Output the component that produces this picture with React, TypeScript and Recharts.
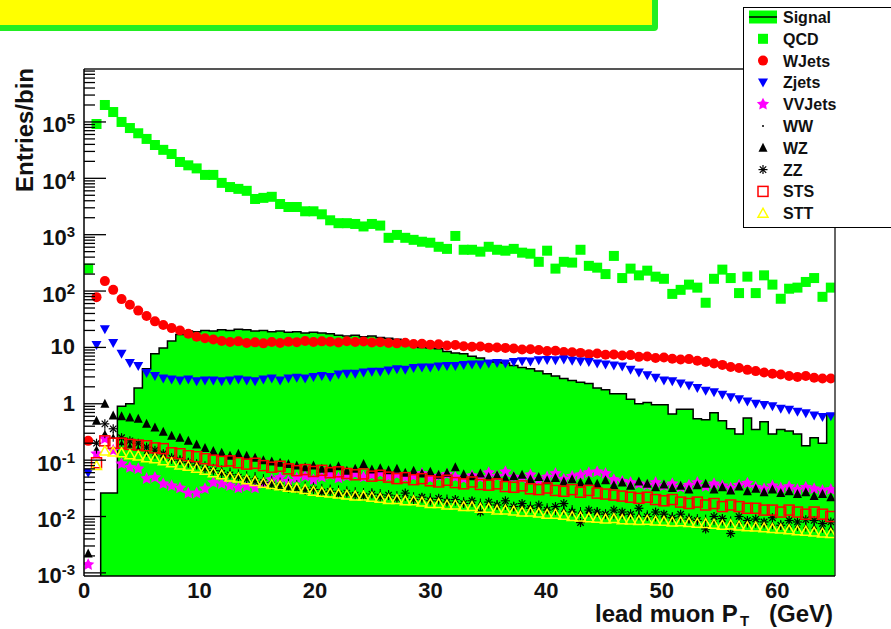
import React from 'react';
import { ComposedChart, Area, Scatter, XAxis, YAxis } from 'recharts';

const W = 891;
const H = 629;
const PLOT_L = 84;
const PLOT_R = 835;
const PLOT_T = 69;
const PLOT_B = 576;
const FONT = '"Liberation Sans", Arial, Helvetica, sans-serif';

// histogram binning: 90 bins over 0..65 GeV
const X_MAX = 65;
const N_BINS = 90;
const BIN_W = X_MAX / N_BINS;
const Y_MIN = 0.00088;
const Y_MAX = 870000;

const xTicks = [0, 10, 20, 30, 40, 50, 60];
const yDecades = [-3, -2, -1, 0, 1, 2, 3, 4, 5];

// bin contents, bin 0 .. 89
const signal = [0, 0, 0.026, 0.026, 0.9, 1.0, 1.9, 4.2, 7.7, 9.8,
  13, 17, 19.5, 19, 20, 19.5, 20.5, 20, 21, 20.5,
  19.5, 20, 19, 19.5, 18.5, 19, 18, 18.5, 18, 17.5,
  16.5, 16, 16.5, 15.5, 16, 15, 14.5, 14, 12.5, 11,
  10, 9.8, 9.5, 8.5, 8, 7.7, 7, 6.5, 5.8, 5.5,
  5.3, 4.8, 4.4, 4.2, 3.8, 3.4, 3.1, 2.8, 2.6, 2.4,
  2.3, 1.9, 1.77, 1.5, 1.5, 1.2, 1.0, 1.05, 0.96, 0.96,
  0.66, 0.8, 0.8, 0.54, 0.52, 0.69, 0.5, 0.36, 0.29, 0.56,
  0.35, 0.48, 0.29, 0.35, 0.33, 0.29, 0.18, 0.25, 0.2, 0.66];

const qcd = [250, 9.2e4, 2.0e5, 1.5e5, 1.0e5, 7.8e4, 6.3e4, 5.0e4, 3.9e4, 3.2e4,
  2.7e4, 1.95e4, 1.7e4, 1.5e4, 1.15e4, 1.15e4, 8300, 7000, 6500, 6000,
  4300, 4500, 4700, 3500, 3100, 3100, 2600, 2600, 2300, 1800,
  1600, 1600, 1550, 1400, 1550, 1450, 880, 990, 880, 810,
  750, 720, 610, 560, 950, 540, 540, 500, 610, 540,
  520, 560, 480, 460, 330, 520, 250, 330, 320, 540,
  280, 260, 200, 420, 170, 250, 190, 230, 180, 165,
  89, 105, 130, 115, 62, 165, 240, 170, 92, 180,
  92, 190, 130, 73, 110, 115, 145, 170, 79, 115];

const wjets = [0.22, 78, 150, 105, 72, 57, 45, 36, 29, 25,
  22, 20, 17.5, 15.5, 14.5, 13.8, 13, 12.5, 12.8, 12,
  12.3, 11.8, 12.5, 12, 12.6, 12.4, 13, 12.5, 12.8, 12.6,
  12.2, 12.9, 12.5, 12.7, 12.2, 12.4, 12, 11.8, 12.1, 11.5,
  11.6, 11.2, 11.4, 10.8, 11, 10.5, 10.3, 10.4, 9.9, 10,
  9.8, 9.6, 9.2, 9.3, 9, 8.6, 8.7, 8.3, 8.2, 8,
  7.6, 7.8, 7.4, 7.5, 7.2, 7.3, 6.8, 6.9, 6.5, 6.6,
  6.3, 6.1, 6.2, 5.8, 5.5, 5.2, 4.9, 4.5, 4.3, 4.0,
  3.8, 3.6, 3.4, 3.3, 3.1, 3.0, 3.1, 2.9, 2.8, 2.8];

const zjets = [0.06, 11, 21, 12, 7.7, 5.3, 4.7, 3.5, 3.1, 2.8,
  2.7, 2.6, 2.7, 2.5, 2.6, 2.6, 2.5, 2.6, 2.7, 2.6,
  2.5, 2.7, 2.8, 2.6, 2.8, 2.9, 2.8, 3.0, 3.1, 3.0,
  3.3, 3.4, 3.4, 3.6, 3.7, 3.7, 3.9, 4.1, 4.0, 4.3,
  4.4, 4.4, 4.6, 4.7, 4.7, 4.9, 5.0, 5.0, 5.2, 5.3,
  5.2, 5.5, 5.7, 5.6, 5.9, 6.0, 5.9, 6.1, 5.8, 5.6,
  5.5, 5.2, 5.0, 4.8, 4.6, 4.0, 3.6, 3.2, 2.9, 2.6,
  2.5, 2.3, 2.1, 1.9, 1.7, 1.6, 1.45, 1.3, 1.2, 1.1,
  1.0, 0.95, 0.9, 0.82, 0.78, 0.72, 0.68, 0.62, 0.58, 0.6];

const vvjets = [0.0014, 0.13, 0.24, 0.15, 0.086, 0.074, 0.07, 0.047, 0.049, 0.038,
  0.035, 0.032, 0.026, 0.026, 0.031, 0.04, 0.038, 0.035, 0.032, 0.034,
  0.032, 0.038, 0.045, 0.049, 0.042, 0.048, 0.052, 0.045, 0.05, 0.055,
  0.048, 0.052, 0.058, 0.05, 0.055, 0.06, 0.052, 0.056, 0.05, 0.053,
  0.058, 0.048, 0.052, 0.056, 0.05, 0.047, 0.053, 0.049, 0.06, 0.052,
  0.062, 0.05, 0.048, 0.055, 0.045, 0.05, 0.058, 0.046, 0.052, 0.055,
  0.06, 0.062, 0.058, 0.045, 0.042, 0.04, 0.038, 0.036, 0.04, 0.035,
  0.038, 0.033, 0.036, 0.04, 0.034, 0.038, 0.035, 0.032, 0.036, 0.039,
  0.033, 0.031, 0.035, 0.032, 0.034, 0.03, 0.033, 0.031, 0.029, 0.03];

const ww = [null, 0.16, 0.3, 0.26, 0.2, 0.18, 0.16, 0.14, 0.13, 0.12,
  0.105, 0.1, 0.09, 0.085, 0.078, 0.07, 0.066, 0.06, 0.056, 0.052,
  0.05, 0.046, 0.043, 0.04, 0.038, 0.036, 0.034, 0.033, 0.031, 0.03,
  0.029, 0.028, 0.027, 0.026, 0.026, 0.025, 0.024, 0.023, 0.023, 0.022,
  0.021, 0.021, 0.02, 0.02, 0.019, 0.018, 0.018, 0.017, 0.017, 0.016,
  0.016, 0.015, 0.015, 0.015, 0.014, 0.014, 0.013, 0.013, 0.013, 0.012,
  0.012, 0.012, 0.011, 0.011, 0.011, 0.011, 0.0105, 0.0105, 0.01, 0.01,
  0.0098, 0.0095, 0.0093, 0.009, 0.0088, 0.0086, 0.0085, 0.0082, 0.008, 0.0078,
  0.0077, 0.0075, 0.0073, 0.0071, 0.007, 0.0068, 0.0066, 0.0065, 0.0063, 0.0062];

const wz = [0.0022, 0.5, 1.0, 0.62, 0.6, 0.57, 0.54, 0.44, 0.38, 0.32,
  0.27, 0.25, 0.22, 0.19, 0.165, 0.146, 0.135, 0.12, 0.13, 0.12,
  0.11, 0.1, 0.095, 0.09, 0.085, 0.08, 0.075, 0.08, 0.07, 0.072,
  0.078, 0.065, 0.07, 0.085, 0.068, 0.072, 0.066, 0.07, 0.06, 0.065,
  0.058, 0.062, 0.055, 0.06, 0.075, 0.056, 0.052, 0.058, 0.05, 0.054,
  0.048, 0.052, 0.055, 0.046, 0.05, 0.044, 0.048, 0.042, 0.046, 0.04,
  0.043, 0.038, 0.044, 0.036, 0.04, 0.035, 0.042, 0.038, 0.033, 0.037,
  0.032, 0.035, 0.03, 0.036, 0.038, 0.03, 0.033, 0.029, 0.034, 0.028,
  0.031, 0.027, 0.03, 0.026, 0.028, 0.025, 0.027, 0.023, 0.025, 0.022];

const zz = [null, 0.2, 0.44, 0.36, 0.25, 0.22, 0.2, 0.17, 0.15, 0.13,
  0.11, 0.1, 0.09, 0.082, 0.07, 0.065, 0.058, 0.055, 0.05, 0.046,
  0.042, 0.04, 0.036, 0.034, 0.032, 0.031, 0.029, 0.03, 0.027, 0.028,
  0.025, 0.026, 0.024, 0.023, 0.025, 0.022, 0.024, 0.021, 0.026, 0.02,
  0.022, 0.019, 0.021, 0.018, 0.02, 0.017, 0.019, 0.012, 0.018, 0.016,
  0.019, 0.015, 0.017, 0.014, 0.016, 0.013, 0.015, 0.017, 0.012, 0.0078,
  0.013, 0.012, 0.011, 0.013, 0.012, 0.011, 0.014, 0.01, 0.012, 0.011,
  0.0095, 0.011, 0.009, 0.0085, 0.006, 0.01, 0.0092, 0.005, 0.01, 0.0085,
  0.009, 0.008, 0.0095, 0.007, 0.0085, 0.008, 0.0088, 0.0085, 0.0075, 0.008];

const sts = [null, 0.09, 0.22, 0.2, 0.2, 0.19, 0.185, 0.18, 0.165, 0.16,
  0.135, 0.13, 0.12, 0.115, 0.106, 0.1, 0.095, 0.097, 0.09, 0.085,
  0.088, 0.08, 0.075, 0.078, 0.07, 0.065, 0.068, 0.063, 0.066, 0.06,
  0.062, 0.058, 0.055, 0.057, 0.052, 0.054, 0.05, 0.047, 0.049, 0.045,
  0.047, 0.043, 0.041, 0.044, 0.04, 0.038, 0.041, 0.037, 0.036, 0.038,
  0.034, 0.033, 0.035, 0.031, 0.03, 0.032, 0.029, 0.028, 0.03, 0.027,
  0.029, 0.026, 0.025, 0.024, 0.023, 0.022, 0.021, 0.022, 0.02, 0.019,
  0.02, 0.018, 0.017, 0.018, 0.016, 0.017, 0.015, 0.016, 0.015, 0.014,
  0.014, 0.013, 0.013, 0.012, 0.013, 0.012, 0.011, 0.012, 0.011, 0.01];

const stt = [null, 0.08, 0.146, 0.14, 0.135, 0.125, 0.118, 0.11, 0.106, 0.098,
  0.09, 0.082, 0.078, 0.072, 0.066, 0.06, 0.055, 0.05, 0.048, 0.045,
  0.042, 0.039, 0.037, 0.035, 0.033, 0.032, 0.03, 0.028, 0.027, 0.026,
  0.025, 0.024, 0.023, 0.023, 0.022, 0.021, 0.02, 0.02, 0.019, 0.019,
  0.018, 0.017, 0.017, 0.016, 0.016, 0.015, 0.015, 0.014, 0.014, 0.013,
  0.013, 0.0125, 0.012, 0.012, 0.0115, 0.011, 0.011, 0.0105, 0.01, 0.0098,
  0.0095, 0.0093, 0.009, 0.0092, 0.0088, 0.0087, 0.0085, 0.0086, 0.0083, 0.0082,
  0.008, 0.0081, 0.0078, 0.0076, 0.0075, 0.0073, 0.007, 0.0071, 0.0068, 0.0066,
  0.0065, 0.0063, 0.0061, 0.006, 0.0058, 0.0056, 0.0055, 0.0053, 0.0051, 0.005];

const legendLabels = ['Signal', 'QCD', 'WJets', 'Zjets', 'VVJets', 'WW', 'WZ', 'ZZ', 'STS', 'STT'];
const legendKinds = ['signal', 'square', 'circle', 'tdown', 'star', 'dot', 'tup', 'aster', 'osquare', 'otri'];

// step histogram edges for the signal area
const signalEdges = [];
for (let i = 0; i <= N_BINS; i++) {
  const v = signal[Math.min(i, N_BINS - 1)];
  signalEdges.push({ x: i * BIN_W, s: v > 0 ? v : 1e-6 });
}

const toPoints = (vals) =>
  vals
    .map((v, i) => ({ x: (i + 0.5) * BIN_W, y: v }))
    .filter((p) => p.y != null && p.y > 0);

const yTicks = [];
yDecades.forEach((e) => {
  for (let m = 1; m <= 9; m++) {
    const v = m * Math.pow(10, e);
    if (v >= Y_MIN && v <= Y_MAX) yTicks.push(v);
  }
});

function starPoints(cx, cy, ro, ri) {
  const pts = [];
  for (let k = 0; k < 10; k++) {
    const r = k % 2 === 0 ? ro : ri;
    const a = -Math.PI / 2 + (k * Math.PI) / 5;
    pts.push(`${cx + r * Math.cos(a)},${cy + r * Math.sin(a)}`);
  }
  return pts.join(' ');
}

function drawMarker(kind, cx, cy, legend = false) {
  switch (kind) {
    case 'square':
      return <rect x={cx - 5} y={cy - 5} width={10} height={10} fill="#00ff00" />;
    case 'circle':
      return <circle cx={cx} cy={cy} r={5} fill="#ff0000" />;
    case 'tdown':
      return <polygon points={`${cx - 5},${cy - 4} ${cx + 5},${cy - 4} ${cx},${cy + 5}`} fill="#0000ff" />;
    case 'star':
      return <polygon points={starPoints(cx, cy, 6.5, 3.2)} fill="#ff00ff" />;
    case 'dot':
      if (legend) return <circle cx={cx} cy={cy} r={1} fill="#000" />;
      return (
        <g>
          <line x1={cx} y1={cy - 5} x2={cx} y2={cy + 5} stroke="#000" strokeWidth={1} />
          <polygon points={`${cx - 3},${cy + 2} ${cx + 3},${cy + 2} ${cx},${cy - 3}`} fill="#000" />
        </g>
      );
    case 'tup':
      return <polygon points={`${cx - 4.5},${cy + 4} ${cx + 4.5},${cy + 4} ${cx},${cy - 5}`} fill="#000" />;
    case 'aster':
      return (
        <g stroke="#000" strokeWidth={1.2}>
          <line x1={cx - 4.5} y1={cy} x2={cx + 4.5} y2={cy} />
          <line x1={cx} y1={cy - 4.5} x2={cx} y2={cy + 4.5} />
          <line x1={cx - 3.2} y1={cy - 3.2} x2={cx + 3.2} y2={cy + 3.2} />
          <line x1={cx - 3.2} y1={cy + 3.2} x2={cx + 3.2} y2={cy - 3.2} />
        </g>
      );
    case 'osquare':
      return <rect x={cx - 5} y={cy - 5} width={10} height={10} fill="none" stroke="#ff0000" strokeWidth={1.5} />;
    case 'otri':
      return (
        <polygon
          points={`${cx - 5},${cy + 4} ${cx + 5},${cy + 4} ${cx},${cy - 5}`}
          fill="none"
          stroke="#ffff00"
          strokeWidth={1.5}
        />
      );
    default:
      return null;
  }
}

const shapeOf = (kind) => (props) => drawMarker(kind, props.cx, props.cy);

const YTick = (props) => {
  const { y, payload } = props;
  const v = payload.value;
  const e = Math.log10(v);
  const exp = Math.round(e);
  const major = Math.abs(e - exp) < 1e-6;
  let label = null;
  if (major) {
    if (exp === 0 || exp === 1) {
      label = (
        <text x={75} y={y + 7} textAnchor="end" fontSize={22} fontWeight="bold" fill="#111" fontFamily={FONT}>
          {exp === 0 ? '1' : '10'}
        </text>
      );
    } else {
      label = (
        <text x={75} y={y + 10.5} textAnchor="end" fontSize={22} fontWeight="bold" fill="#111" fontFamily={FONT}>
          10
          <tspan dy={-8} fontSize={15}>{String(exp)}</tspan>
        </text>
      );
    }
  }
  return (
    <g>
      <line x1={PLOT_L} x2={PLOT_L + (major ? 22 : 11)} y1={y} y2={y} stroke="#000" strokeWidth={1.3} />
      {label}
    </g>
  );
};

const XTick = (props) => {
  const { x, payload } = props;
  return (
    <text x={x} y={598} textAnchor="middle" fontSize={22} fontWeight="bold" fill="#111" fontFamily={FONT}>
      {payload.value}
    </text>
  );
};

const series = [
  { name: 'QCD', vals: qcd, kind: 'square' },
  { name: 'WJets', vals: wjets, kind: 'circle' },
  { name: 'Zjets', vals: zjets, kind: 'tdown' },
  { name: 'VVJets', vals: vvjets, kind: 'star' },
  { name: 'WW', vals: ww, kind: 'dot' },
  { name: 'WZ', vals: wz, kind: 'tup' },
  { name: 'ZZ', vals: zz, kind: 'aster' },
  { name: 'STS', vals: sts, kind: 'osquare' },
  { name: 'STT', vals: stt, kind: 'otri' },
];

export default function App() {
  return (
    <div style={{ position: 'absolute', left: 0, top: 0, width: W, height: H, background: '#fff', fontFamily: FONT }}>
      <ComposedChart
        width={W}
        height={H}
        data={signalEdges}
        margin={{ top: PLOT_T, right: W - PLOT_R, bottom: 0, left: 0 }}
      >
        <XAxis
          type="number"
          dataKey="x"
          domain={[0, X_MAX]}
          ticks={xTicks}
          interval={0}
          tick={(p) => <XTick {...p} />}
          tickLine={false}
          axisLine={false}
          height={H - PLOT_B}
          allowDataOverflow
        />
        <YAxis
          type="number"
          scale="log"
          domain={[Y_MIN, Y_MAX]}
          ticks={yTicks}
          interval={0}
          tick={(p) => <YTick {...p} />}
          tickLine={false}
          axisLine={false}
          width={PLOT_L}
          allowDataOverflow
        />
        <Area
          type="stepAfter"
          dataKey="s"
          stroke="#000"
          strokeWidth={1.5}
          fill="#00ff00"
          fillOpacity={1}
          baseValue={Y_MIN}
          dot={false}
          activeDot={false}
          isAnimationActive={false}
        />
        {series.map((s) => (
          <Scatter
            key={s.name}
            name={s.name}
            data={toPoints(s.vals)}
            dataKey="y"
            shape={shapeOf(s.kind)}
            isAnimationActive={false}
          />
        ))}
      </ComposedChart>

      <svg
        width={W}
        height={H}
        style={{ position: 'absolute', left: 0, top: 0, pointerEvents: 'none' }}
        fontFamily={FONT}
      >
        {/* title pave */}
        <rect x={-6} y={-6} width={664} height={37} rx={4} fill="#22ee22" />
        <rect x={-6} y={-6} width={658} height={31} fill="#ffff00" />

        {/* frame */}
        <line x1={PLOT_L} y1={PLOT_T} x2={PLOT_R} y2={PLOT_T} stroke="#555" strokeWidth={2} />
        <line x1={PLOT_R} y1={PLOT_T} x2={PLOT_R} y2={PLOT_B} stroke="#333" strokeWidth={1.5} />
        <line x1={PLOT_L} y1={PLOT_T} x2={PLOT_L} y2={PLOT_B} stroke="#000" strokeWidth={1.5} />
        <line x1={PLOT_L} y1={PLOT_B} x2={PLOT_R} y2={PLOT_B} stroke="#000" strokeWidth={1.5} />

        {/* axis titles */}
        <text
          transform="translate(33,130) rotate(-90)"
          textAnchor="middle"
          fontSize={24}
          fontWeight="bold"
          fill="#111"
        >
          Entries/bin
        </text>
        <text x={595} y={622} fontSize={24} fontWeight="bold" fill="#111">lead muon P</text>
        <text x={740} y={626} fontSize={15} fontWeight="bold" fill="#111">T</text>
        <text x={833} y={622} textAnchor="end" fontSize={24} fontWeight="bold" fill="#111">(GeV)</text>

        {/* legend */}
        <rect x={743.5} y={7.5} width={160} height={220} fill="#fff" stroke="#000" strokeWidth={1} />
        {legendLabels.map((lab, i) => {
          const cy = 17 + i * 21.8;
          const kind = legendKinds[i];
          return (
            <g key={lab}>
              {kind === 'signal' ? (
                <g>
                  <rect x={749} y={cy - 6.5} width={28} height={13} fill="#00ff00" />
                  <line x1={749} y1={cy} x2={777} y2={cy} stroke="#000" strokeWidth={1.5} />
                </g>
              ) : (
                drawMarker(kind, 763, cy, true)
              )}
              <text x={783} y={cy + 6} fontSize={16} fontWeight="bold" fill="#111">{lab}</text>
            </g>
          );
        })}
      </svg>
    </div>
  );
}
